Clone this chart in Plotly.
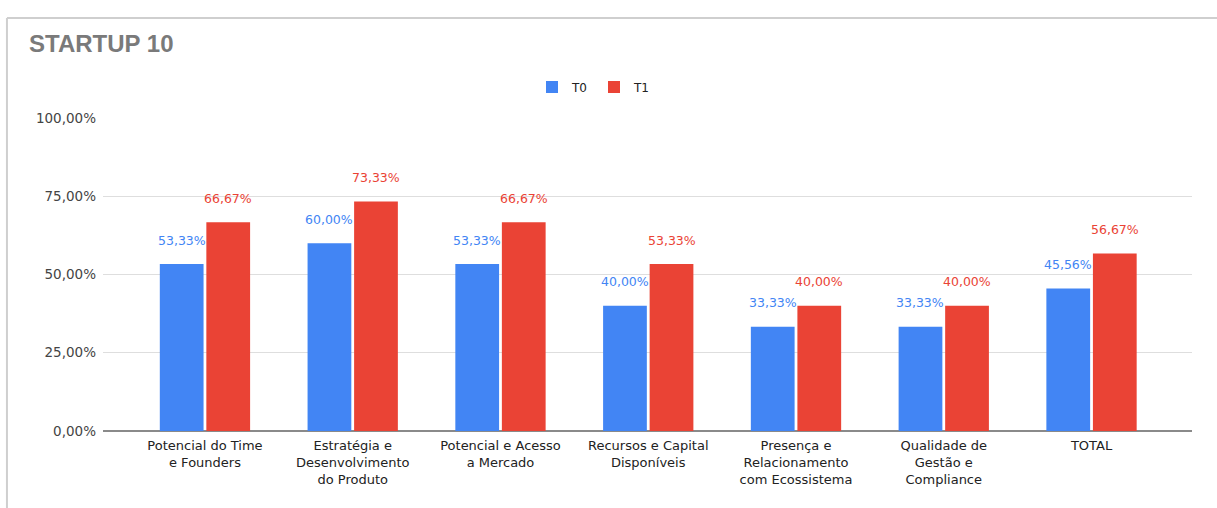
import plotly.graph_objects as go

# Categories and scores per evaluation round
categories = [
    "Potencial do Time<br>e Founders",
    "Estratégia e<br>Desenvolvimento<br>do Produto",
    "Potencial e Acesso<br>a Mercado",
    "Recursos e Capital<br>Disponíveis",
    "Presença e<br>Relacionamento<br>com Ecossistema",
    "Qualidade de<br>Gestão e<br>Compliance",
    "TOTAL",
]
t0_values = [0.5333, 0.6000, 0.5333, 0.4000, 0.3333, 0.3333, 0.4556]
t1_values = [0.6667, 0.7333, 0.6667, 0.5333, 0.4000, 0.4000, 0.5667]
y_ticks = [0, 0.25, 0.5, 0.75, 1.0]

BLUE = "#4285F4"
RED = "#EA4335"
BARGAP = 0.37
GROUPGAP = 0.06
FONT = "Liberation Sans, Arial, sans-serif"
WIDE = "DejaVu Sans, sans-serif"


def pct(v):
    return f"{v * 100:.2f}".replace(".", ",") + "%"


x_idx = list(range(len(categories)))

fig = go.Figure()
fig.add_trace(go.Bar(name="T0", x=x_idx, y=t0_values, marker=dict(color=BLUE, line=dict(width=0))))
fig.add_trace(go.Bar(name="T1", x=x_idx, y=t1_values, marker=dict(color=RED, line=dict(width=0))))

# Value labels floating above each bar
offset = (1 - BARGAP) / 4
annotations = []
for i, (a, b) in enumerate(zip(t0_values, t1_values)):
    for xpos, v, col in ((i - offset, a, BLUE), (i + offset, b, RED)):
        annotations.append(dict(
            x=xpos, y=v, xref="x", yref="y", text=pct(v), showarrow=False,
            yanchor="middle", yshift=24, font=dict(family=WIDE, size=12.5, color=col),
        ))

# Frame around the chart card
shapes = [
    dict(type="line", xref="paper", yref="paper", x0=-0.0882, x1=1.05, y0=1.3195, y1=1.3195,
         line=dict(color="#cfcfcf", width=2)),
    dict(type="line", xref="paper", yref="paper", x0=-0.0882, x1=-0.0882, y0=-0.3, y1=1.3195,
         line=dict(color="#cfcfcf", width=2)),
]

fig.update_layout(
    width=1217, height=508,
    margin=dict(l=103, r=25, t=118, b=77),
    paper_bgcolor="white", plot_bgcolor="white",
    separators=",.",
    barmode="group", bargap=BARGAP, bargroupgap=GROUPGAP,
    font=dict(family=FONT, color="#444444", size=12),
    title=dict(
        text="<b>STARTUP 10</b>", x=29 / 1217, xanchor="left", xref="container",
        y=1 - 44 / 508, yanchor="middle", yref="container",
        font=dict(family=FONT, size=24, color="#7a7a7a"),
    ),
    legend=dict(
        orientation="h", x=(594 - 103) / 1089, xanchor="center",
        y=(431 - 87) / 313, yanchor="middle",
        font=dict(family=WIDE, size=12, color="#222222"),
        itemwidth=30, entrywidth=17, entrywidthmode="pixels",
    ),
    xaxis=dict(
        tickmode="array", tickvals=x_idx, ticktext=categories,
        range=[-0.69, 6.68], showgrid=False, ticks="",
        tickfont=dict(family=WIDE, size=13, color="#222222"),
        showline=False, ticklabelstandoff=5,
    ),
    yaxis=dict(
        range=[0, 1.0], tickvals=y_ticks, tickformat=".2%",
        showgrid=True, gridcolor="#dedede", gridwidth=1,
        zeroline=True, zerolinecolor="#8a8a8a", zerolinewidth=1.5,
        tickfont=dict(family=WIDE, size=13.5, color="#444444"),
        ticks="", ticklabelstandoff=6,
    ),
    annotations=annotations,
    shapes=shapes,
    showlegend=True,
)

fig.write_html("out.html")
